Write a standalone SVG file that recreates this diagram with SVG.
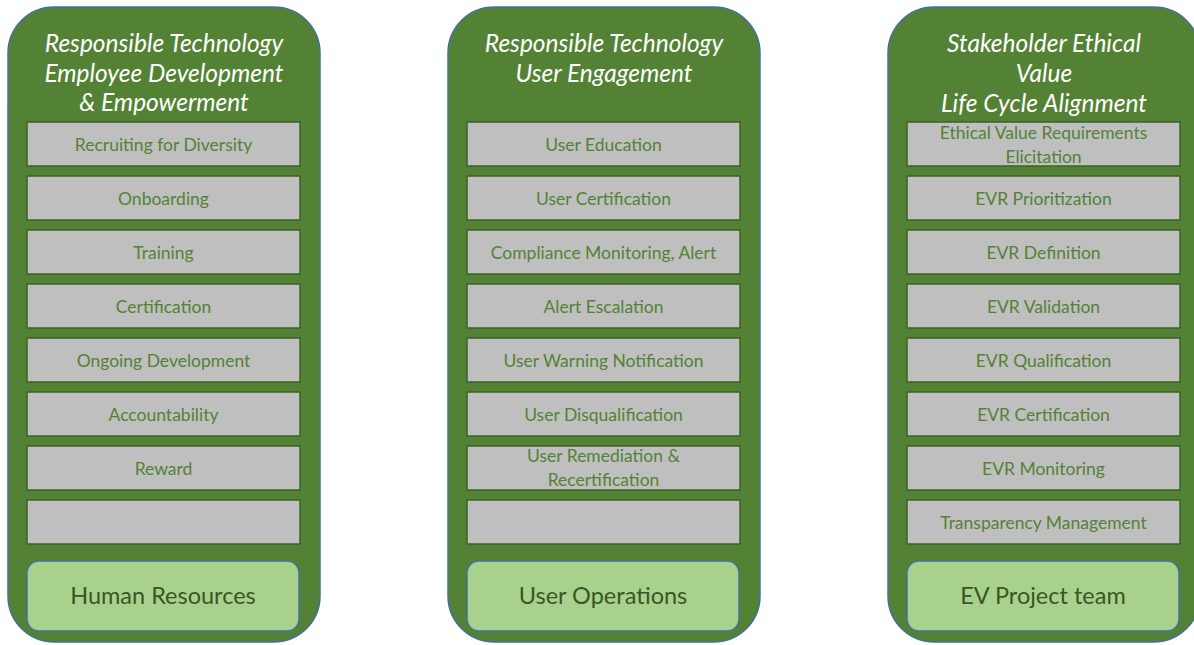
<svg xmlns="http://www.w3.org/2000/svg" width="1194" height="645" viewBox="0 0 1194 645">
<style>
.panel{fill:#548235;stroke:#41719C;stroke-width:1.5}
.item{fill:#BFBFBF;stroke:#3B6127;stroke-width:1.5}
.base{fill:#A9D18E;stroke:#41719C;stroke-width:1.5}
.title{font-family:Lato,"Open Sans",sans-serif;font-style:italic;font-size:24.5px;fill:#FFFFFF;text-anchor:middle}
.it{font-family:Lato,"Open Sans",sans-serif;font-size:17.5px;fill:#548235;text-anchor:middle}
.bt{font-family:Lato,"Open Sans",sans-serif;font-size:23.5px;fill:#385723;text-anchor:middle}
</style>
<rect width="1194" height="645" fill="#FFFFFF"/>
<g id="panel-hr">
<rect class="panel" x="8" y="7" width="312" height="635" rx="46"/>
<text class="title" x="164" y="52">Responsible Technology</text>
<text class="title" x="164" y="82">Employee Development</text>
<text class="title" x="164" y="111">&amp; Empowerment</text>
<rect class="item" x="27" y="122" width="273" height="44"/><text class="it" x="163.5" y="150.5">Recruiting for Diversity</text>
<rect class="item" x="27" y="176" width="273" height="44"/><text class="it" x="163.5" y="204.5">Onboarding</text>
<rect class="item" x="27" y="230" width="273" height="44"/><text class="it" x="163.5" y="258.5">Training</text>
<rect class="item" x="27" y="284" width="273" height="44"/><text class="it" x="163.5" y="312.5">Certification</text>
<rect class="item" x="27" y="338" width="273" height="44"/><text class="it" x="163.5" y="366.5">Ongoing Development</text>
<rect class="item" x="27" y="392" width="273" height="44"/><text class="it" x="163.5" y="420.5">Accountability</text>
<rect class="item" x="27" y="446" width="273" height="44"/><text class="it" x="163.5" y="474.5">Reward</text>
<rect class="item" x="27" y="500" width="273" height="44"/>
<rect class="base" x="27" y="561" width="272" height="70" rx="12"/><text class="bt" x="163" y="604">Human Resources</text>
</g>
<g id="panel-uo">
<rect class="panel" x="448" y="7" width="312" height="635" rx="46"/>
<text class="title" x="604" y="52">Responsible Technology</text>
<text class="title" x="604" y="82">User Engagement</text>
<rect class="item" x="467" y="122" width="273" height="44"/><text class="it" x="603.5" y="150.5">User Education</text>
<rect class="item" x="467" y="176" width="273" height="44"/><text class="it" x="603.5" y="204.5">User Certification</text>
<rect class="item" x="467" y="230" width="273" height="44"/><text class="it" x="603.5" y="258.5">Compliance Monitoring, Alert</text>
<rect class="item" x="467" y="284" width="273" height="44"/><text class="it" x="603.5" y="312.5">Alert Escalation</text>
<rect class="item" x="467" y="338" width="273" height="44"/><text class="it" x="603.5" y="366.5">User Warning Notification</text>
<rect class="item" x="467" y="392" width="273" height="44"/><text class="it" x="603.5" y="420.5">User Disqualification</text>
<rect class="item" x="467" y="446" width="273" height="44"/><text class="it" x="603.5" y="462">User Remediation &amp;</text><text class="it" x="603.5" y="486">Recertification</text>
<rect class="item" x="467" y="500" width="273" height="44"/>
<rect class="base" x="467" y="561" width="272" height="70" rx="12"/><text class="bt" x="603" y="604">User Operations</text>
</g>
<g id="panel-ev">
<rect class="panel" x="888" y="7" width="312" height="635" rx="46"/>
<text class="title" x="1044" y="52">Stakeholder Ethical</text>
<text class="title" x="1044" y="82">Value</text>
<text class="title" x="1044" y="112">Life Cycle Alignment</text>
<rect class="item" x="907" y="122" width="273" height="44"/><text class="it" x="1043.5" y="139">Ethical Value Requirements</text><text class="it" x="1043.5" y="163">Elicitation</text>
<rect class="item" x="907" y="176" width="273" height="44"/><text class="it" x="1043.5" y="204.5">EVR Prioritization</text>
<rect class="item" x="907" y="230" width="273" height="44"/><text class="it" x="1043.5" y="258.5">EVR Definition</text>
<rect class="item" x="907" y="284" width="273" height="44"/><text class="it" x="1043.5" y="312.5">EVR Validation</text>
<rect class="item" x="907" y="338" width="273" height="44"/><text class="it" x="1043.5" y="366.5">EVR Qualification</text>
<rect class="item" x="907" y="392" width="273" height="44"/><text class="it" x="1043.5" y="420.5">EVR Certification</text>
<rect class="item" x="907" y="446" width="273" height="44"/><text class="it" x="1043.5" y="474.5">EVR Monitoring</text>
<rect class="item" x="907" y="500" width="273" height="44"/><text class="it" x="1043.5" y="528.5">Transparency Management</text>
<rect class="base" x="907" y="561" width="272" height="70" rx="12"/><text class="bt" x="1043" y="604">EV Project team</text>
</g>
<g id="connectors"></g>
</svg>
